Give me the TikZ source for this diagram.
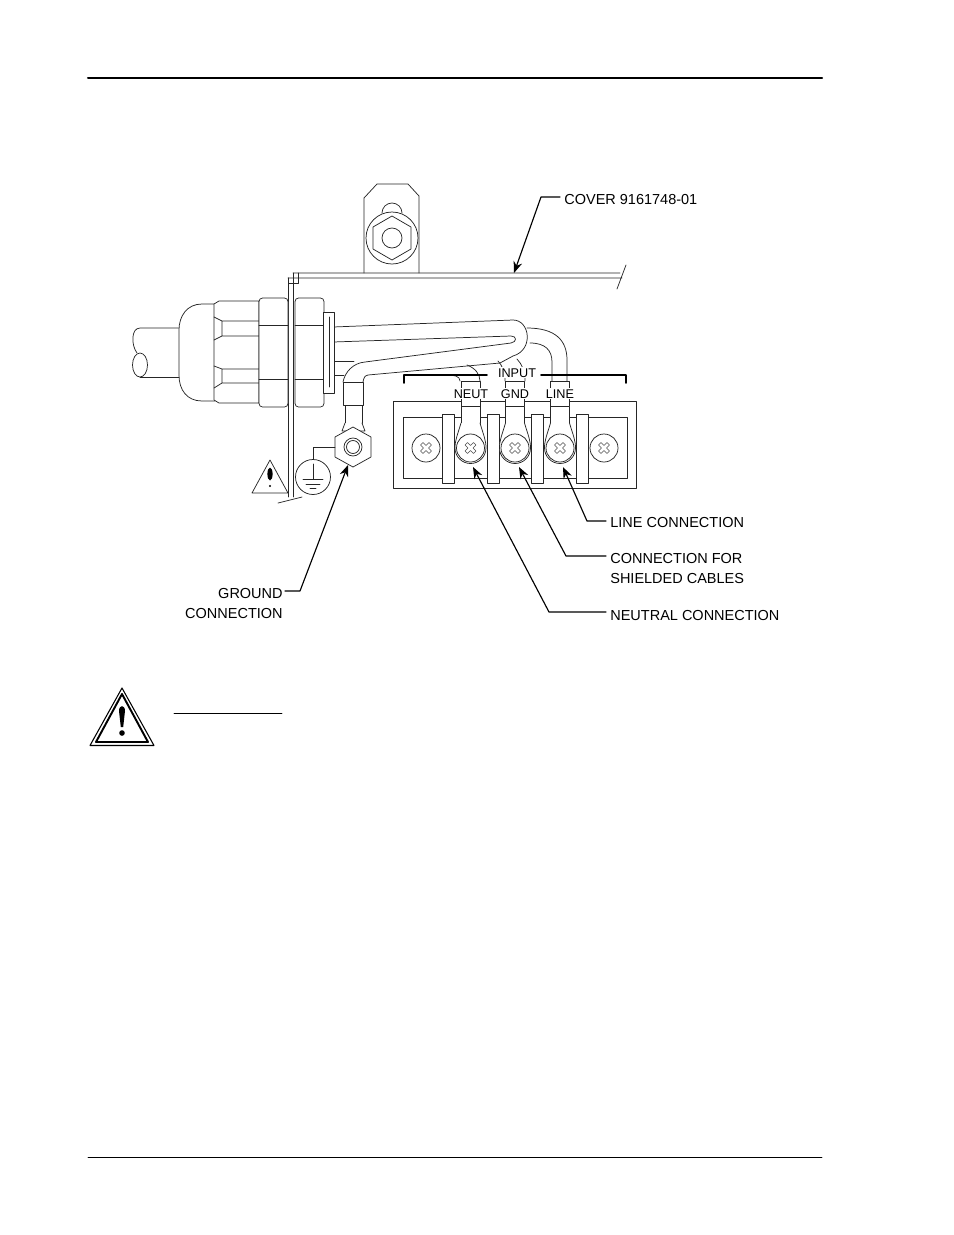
\documentclass[tikz,border=0pt]{standalone}
\usepackage{fontspec}
\setmainfont{Liberation Sans}
\usetikzlibrary{arrows.meta}
\tikzset{
	wire/.style={line width=0.42pt,black!85},
	part/.style={line width=0.42pt,draw=black!85,fill=white},
	rule/.style={line width=0.5pt},
	leader/.style={line width=0.65pt,-{Stealth[length=6.5pt,width=5pt]}},
	label/.style={inner sep=0pt,font=\fontsize{8.25}{11.4}\selectfont,align=left},
	tag/.style={inner sep=0.6pt,fill=white,anchor=base,font=\fontsize{7.2}{9}\selectfont},
	screwcross/.style={line width=0.3pt,black!70},
}
\begin{document}
\begin{tikzpicture}[x=0.02cm,y=-0.02cm,line join=round,line cap=round]
	\useasboundingbox (0,0) rectangle (954,1235);
	% page rules
	\draw[line width=1.15pt] (88,78)--(822,78);
	\draw[rule] (88,1157)--(822,1157);
	% mounting tab
	\draw[wire] (364,273)--(364,198)--(377,184)--(408,184)--(419,196)--(419,273);
	\draw[wire] (382,213) arc (180:360:10);
	\draw[part] (392,238) circle (26);
	\draw[wire] (392,216)--(411,227)--(411,249)--(392,260)--(373,249)--(373,227)--cycle;
	\draw[wire] (392,238) circle (10);
	% cover
	\draw[wire] (293,273)--(620,273) (288,278)--(622,278) (617,289)--(626,265);
	\draw[wire] (288,278)--(288,497) (293,273)--(293,497);
	\draw[wire] (288,278)--(288,283)--(298,283)--(298,273);
	\draw[wire] (278,503)--(302,497);
	% wires behind the gland
	\draw[wire] (333,327)--(513,320) .. controls (530,320) and (534,350) .. (513,356)--(500,363)--(368,375)
		.. controls (364,376) and (364,378) .. (363,382);
	\draw[wire] (333,342)--(511,336) .. controls (517,336) and (517,342) .. (511,343)--(365,362)
		.. controls (353,363) and (345,372) .. (343,382);
	\draw[wire] (333,361)--(354,361) (333,375)--(344,375);
	\draw[wire] (527,328) .. controls (555,328) and (567,340) .. (567,360)--(567,381);
	\draw[wire] (530,343) .. controls (545,343) and (552,350) .. (552,362)--(552,381);
	\draw[wire] (498,361) .. controls (502,365) and (505,372) .. (505,381);
	\draw[wire] (517,359) .. controls (522,364) and (525,372) .. (525,381);
	\draw[wire] (447,375) .. controls (454,375) and (460,376) .. (460,381);
	\draw[wire] (467,365) .. controls (475,368) and (480,374) .. (480,381);
	% cable and gland
	\draw[wire] (180,328)--(140,328) .. controls (131,328) and (131,345) .. (137,353);
	\draw[wire] (180,377)--(140,377);
	\draw[wire] (140,365) ellipse (7.5 and 12);
	\draw[part] (215,304)--(202,304) .. controls (187,304) and (179,316) .. (179,330)--(179,375)
		.. controls (179,390) and (187,401) .. (202,401)--(215,401)--cycle;
	\draw[part] (214,304)--(219,301)--(259,301)--(259,403)--(219,403)--(214,400)--cycle;
	\draw[wire] (214,317)--(222,321)--(259,321) (222,321)--(222,336)--(259,336) (222,336)--(214,340);
	\draw[wire] (214,366)--(222,369)--(259,369) (222,369)--(222,383)--(259,383) (222,383)--(214,388);
	% lock nuts
	\foreach \nx in {259,295}{
		\draw[part,rounded corners=2pt] (\nx,298) rectangle ++(29,109);
		\draw[wire] (\nx,325)--++(29,0) (\nx,379)--++(29,0);
	}
	\draw[part] (323,312) rectangle (334,393);
	\draw[wire] (329,317)--(329,387);
	% ground lug
	\draw[part] (345,405) rectangle (362,423);
	\draw[part] (343,382) rectangle (363,405);
	\draw[part] (345,423)--(342,431)--(365,431)--(362,423);
	\draw[part] (353,427)--(371,437)--(371,457)--(353,467)--(335,457)--(335,437)--cycle;
	\draw[wire] (353,447) circle (9) (353,447) circle (6.5);
	% ground symbol
	\draw[wire] (335,447)--(313,447)--(313,459.5);
	\draw[wire] (313,477) circle (17.5);
	\draw[wire] (313,464)--(313,479) (303,479)--(323,479) (306,484)--(320,484) (310,488)--(316,488);
	% small warning sign
	\draw[part] (270,460)--(288,493)--(252,493)--cycle;
	\fill (270,474) ellipse (2.6 and 6.5) (270,486) circle (1.1);
	% terminal block
	\draw[part] (393,401) rectangle (636,488);
	\draw[wire] (403,417) rectangle (627,478);
	\foreach \bx in {442,487,531,576}{
		\draw[part] (\bx,414) rectangle ++(12,69);
	}
	\foreach \lx in {470.5,515,560}{
		\draw[part] (\lx-9.5,381) rectangle (\lx+9.5,406);
		\draw[part] (\lx-9.5,406) rectangle (\lx+9.5,423);
		\draw[part] (\lx-9.5,423) .. controls (\lx-13,435) and (\lx-15.5,440) .. (\lx-15.5,448)
			arc (180:0:15.5) .. controls (\lx+15.5,440) and (\lx+13,435) .. (\lx+9.5,423);
	}
	\foreach \sx in {426,470.5,515,560,604}{
		\draw[wire] (\sx,448) circle (14);
		\draw[screwcross,rotate around={45:(\sx,448)}] (\sx-6,446.2)--(\sx-1.8,446.2)--(\sx-1.8,442)--(\sx+1.8,442)--(\sx+1.8,446.2)--(\sx+6,446.2)
			--(\sx+6,449.8)--(\sx+1.8,449.8)--(\sx+1.8,454)--(\sx-1.8,454)--(\sx-1.8,449.8)--(\sx-6,449.8)--cycle;
	}
	% input bracket
	\draw[line width=1pt] (404,383)--(404,375)--(487,375) (541,375)--(626,375)--(626,383);
	\node[tag] (input) at (517,377) {INPUT};
	\node[tag] (neut) at (471,398) {NEUT};
	\node[tag] (gnd) at (515,398) {GND};
	\node[tag] (line) at (560,398) {LINE};
	% callouts
	\node[label,anchor=west] (cover) at (564,200) {COVER 9161748-01};
	\node[label,anchor=east,align=right] (ground) at (283,603.5) {GROUND\\CONNECTION};
	\node[label,anchor=west] (linecon) at (610,522) {LINE CONNECTION};
	\node[label,anchor=west] (shield) at (610,568.5) {CONNECTION FOR\\SHIELDED CABLES};
	\node[label,anchor=west] (neutcon) at (610,615) {NEUTRAL CONNECTION};
	\coordinate (covertip) at (514,273);
	\coordinate (groundtip) at (348,465);
	\coordinate (linetip) at (563,467);
	\coordinate (shieldtip) at (519,467);
	\coordinate (neuttip) at (473,467);
	\draw[leader] (560,197)--(541,197)--(covertip);
	\draw[leader] (285,591)--(300,591)--(groundtip);
	\draw[leader] (606,521)--(587,521)--(linetip);
	\draw[leader] (606,556)--(566,556)--(shieldtip);
	\draw[leader] (606,612)--(549,612)--(neuttip);
	% warning sign
	\draw[line width=0.6pt] (122,688)--(154,745.5)--(90,745.5)--cycle;
	\draw[line width=1.1pt] (122,694)--(148,742)--(96,742)--cycle;
	\fill (119,711) .. controls (119,704.5) and (125,704.5) .. (125,711)--(123.2,727)--(120.8,727)--cycle;
	\fill (122,733) circle (2.8);
	\draw[rule] (174,713)--(282,713);
\end{tikzpicture}
\end{document}
